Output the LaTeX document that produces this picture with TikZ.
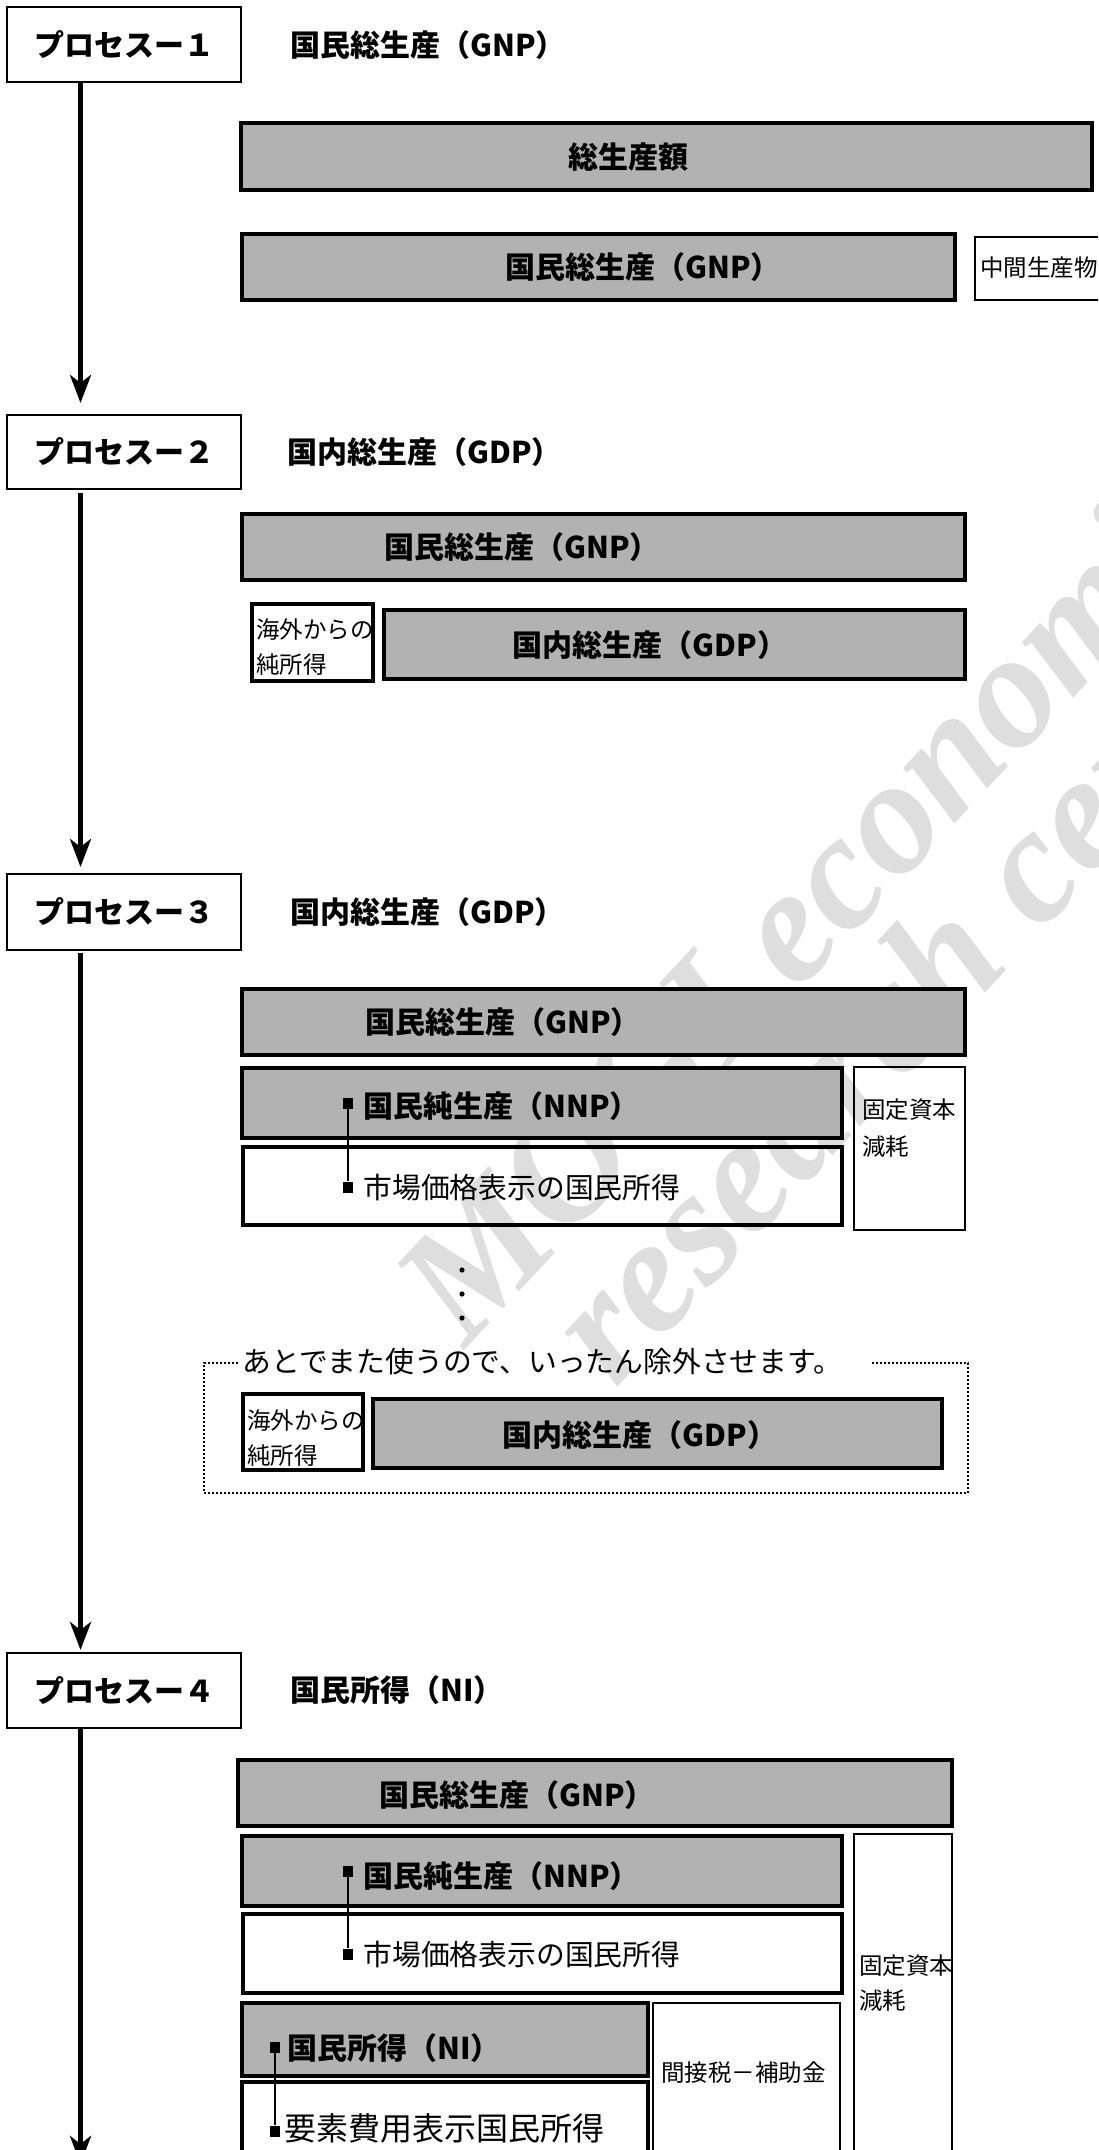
\documentclass[tikz,border=0pt]{standalone}
\usepackage{fontspec}
\usetikzlibrary{arrows.meta,fit}
\newfontfamily\jpfont{Noto Sans CJK JP}
\newfontfamily\wmfont{Liberation Serif}
\definecolor{boxgray}{RGB}{178,178,178}
\definecolor{wmgray}{RGB}{222,222,222}
% box helper: style, name, (x1,y1), (x2,y2)
\newcommand\mkbox[4]{\path #3 coordinate (#2-a) #4 coordinate (#2-b);
  \node[#1, fit=(#2-a)(#2-b), inner sep=0pt, outer sep=0pt] (#2) {};}
\begin{document}
\begin{tikzpicture}[x=0.5pt, y=-0.5pt,
  gbox/.style={draw=black, fill=boxgray, line width=2.2pt},
  wbox/.style={draw=black, line width=2.2pt},
  mbox/.style={draw=black, line width=1.6pt},
  tbox/.style={draw=black, line width=1.3pt},
  pbox/.style={draw=black, line width=1.1pt},
  bt/.style={font=\fontsize{15}{18}\selectfont\jpfont\bfseries, inner sep=0pt},
  st/.style={font=\fontsize{11.75}{17.5}\selectfont\jpfont, inner sep=0pt, align=left},
  st2/.style={font=\fontsize{11.75}{18.5}\selectfont\jpfont, inner sep=0pt, align=left},
  mt/.style={font=\fontsize{14.4}{17}\selectfont\jpfont, inner sep=0pt},
  lt/.style={font=\fontsize{16}{19}\selectfont\jpfont, inner sep=0pt},
  flow/.style={line width=2.5pt, -{Stealth[length=14pt,width=10.5pt,inset=4pt]}},
  sq/.style={fill=black, minimum width=5pt, minimum height=5.5pt, inner sep=0pt},
  brk/.style={line width=1.2pt},
  dotn/.style={circle, fill=black, minimum size=2.6pt, inner sep=0pt},
  frame/.style={line width=0.9pt, dash pattern=on 1pt off 1pt},
  wm/.style={font=\fontsize{82}{96}\selectfont\wmfont\bfseries\itshape, text=wmgray, inner sep=0pt, anchor=base west, rotate=47}
]
\useasboundingbox (0,0) rectangle (1098,2150);
\fill[white] (0,0) rectangle (1098,2150);
\clip (0,0) rectangle (1098,2150);

% watermark
\node[wm] (wm1) at (465,1350) {MOGI economic};
\node[wm] (wm2) at (615,1390) {research center};

% process boxes
\mkbox{pbox}{p1}{(7,7)}{(241,82)}
\mkbox{pbox}{p2}{(7,415)}{(241,489)}
\mkbox{pbox}{p3}{(7,874)}{(241,950)}
\mkbox{pbox}{p4}{(7,1653)}{(241,1728)}
\node[bt] (p1t) at (p1) {プロセスー１};
\node[bt] (p2t) at (p2) {プロセスー２};
\node[bt] (p3t) at (p3) {プロセスー３};
\node[bt] (p4t) at (p4) {プロセスー４};

\coordinate (col) at (80.5,0);
\coordinate (endp) at (80.5,2164);
\draw[flow, shorten >=6pt] (p1.south -| col) -- (p2.north -| col);
\draw[flow, shorten <=2pt, shorten >=3.5pt] (p2.south -| col) -- (p3.north -| col);
\draw[flow, shorten <=1.5pt, shorten >=1.5pt] (p3.south -| col) -- (p4.north -| col);
\draw[flow] (p4.south -| col) -- (endp);

% titles
\node[bt, anchor=west] (t1) at (290,45) {国民総生産（GNP）};
\node[bt, anchor=west] (t2) at (287,452) {国内総生産（GDP）};
\node[bt, anchor=west] (t3) at (290,912) {国内総生産（GDP）};
\node[bt, anchor=west] (t4) at (290,1690) {国民所得（NI）};

% ---- process 1
\mkbox{gbox}{A1}{(241,123)}{(1092,190)}
\node[bt] (A1t) at (628,157) {総生産額};
\mkbox{gbox}{A2}{(242,234)}{(955,300)}
\node[bt] (A2t) at (643,267) {国民総生産（GNP）};
\mkbox{tbox}{A3}{(975,237)}{(1120,300)}
\node[st, anchor=west] (A3t) at (980,268) {中間生産物};

% ---- process 2
\mkbox{gbox}{B1}{(242,514)}{(965,580)}
\node[bt] (B1t) at (522,547) {国民総生産（GNP）};
\mkbox{mbox}{B2}{(252,604)}{(373,681)}
\node[st, anchor=west] (B2t) at (256,647) {海外からの\\純所得};
\mkbox{gbox}{B3}{(384,610)}{(965,679)}
\node[bt] (B3t) at (650,645) {国内総生産（GDP）};

% ---- process 3
\mkbox{gbox}{C1}{(242,989)}{(965,1055)}
\node[bt] (C1t) at (503,1022) {国民総生産（GNP）};
\mkbox{gbox}{C2}{(242,1068)}{(842,1138)}
\node[bt, anchor=west] (C2t) at (363,1106) {国民純生産（NNP）};
\mkbox{wbox}{C3}{(243,1147)}{(842,1225)}
\node[mt, anchor=west] (C3t) at (363,1188) {市場価格表示の国民所得};
\mkbox{tbox}{C4}{(854,1067)}{(965,1230)}
\node[st2, anchor=west] (C4t) at (862,1128) {固定資本\\減耗};
\node[sq] (C2m) at (348,1103) {};
\node[sq] (C3m) at (348,1187) {};
\draw[brk] (C2m) -- (C3m);

\node[dotn] (d1) at (462,1270) {};
\node[dotn] (d2) at (462,1294) {};
\node[dotn] (d3) at (462,1318) {};

\node[mt, anchor=west] (note) at (242,1362) {あとでまた使うので、いったん除外させます。};
\coordinate (fr-a) at (204,1363);
\coordinate (fr-b) at (968,1493);
\coordinate (fl) at ([xshift=-2pt]note.west);
\coordinate (frr) at ([xshift=14pt]note.east);
\draw[frame] (fl |- fr-a) -- (fr-a) -- (fr-a |- fr-b) -- (fr-b) -- (fr-b |- fr-a) -- (frr |- fr-a);
\mkbox{mbox}{C5}{(243,1394)}{(363,1470)}
\node[st, anchor=west] (C5t) at (247,1438) {海外からの\\純所得};
\mkbox{gbox}{C6}{(373,1399)}{(942,1468)}
\node[bt] (C6t) at (640,1435) {国内総生産（GDP）};

% ---- process 4
\mkbox{gbox}{D1}{(238,1760)}{(952,1826)}
\node[bt] (D1t) at (517,1795) {国民総生産（GNP）};
\mkbox{gbox}{D2}{(242,1836)}{(842,1906)}
\node[bt, anchor=west] (D2t) at (363,1876) {国民純生産（NNP）};
\mkbox{wbox}{D3}{(243,1914)}{(842,1993)}
\node[mt, anchor=west] (D3t) at (363,1955) {市場価格表示の国民所得};
\mkbox{tbox}{D4}{(854,1834)}{(952,2175)}
\node[st, anchor=west] (D4t) at (859,1983) {固定資本\\減耗};
\mkbox{gbox}{D5}{(242,2003)}{(648,2076)}
\node[bt, anchor=west] (D5t) at (287,2048) {国民所得（NI）};
\mkbox{tbox}{D6}{(653,2003)}{(840,2175)}
\node[st, anchor=west] (D6t) at (661,2073) {間接税－補助金};
\mkbox{wbox}{D7}{(242,2082)}{(648,2175)}
\node[lt, anchor=west] (D7t) at (284,2128) {要素費用表示国民所得};
\node[sq] (D2m) at (348,1871.5) {};
\node[sq] (D3m) at (348,1954) {};
\draw[brk] (D2m) -- (D3m);
\node[sq] (D5m) at (275,2047.5) {};
\node[sq] (D7m) at (275,2131) {};
\draw[brk] (D5m) -- (D7m);
\end{tikzpicture}
\end{document}
